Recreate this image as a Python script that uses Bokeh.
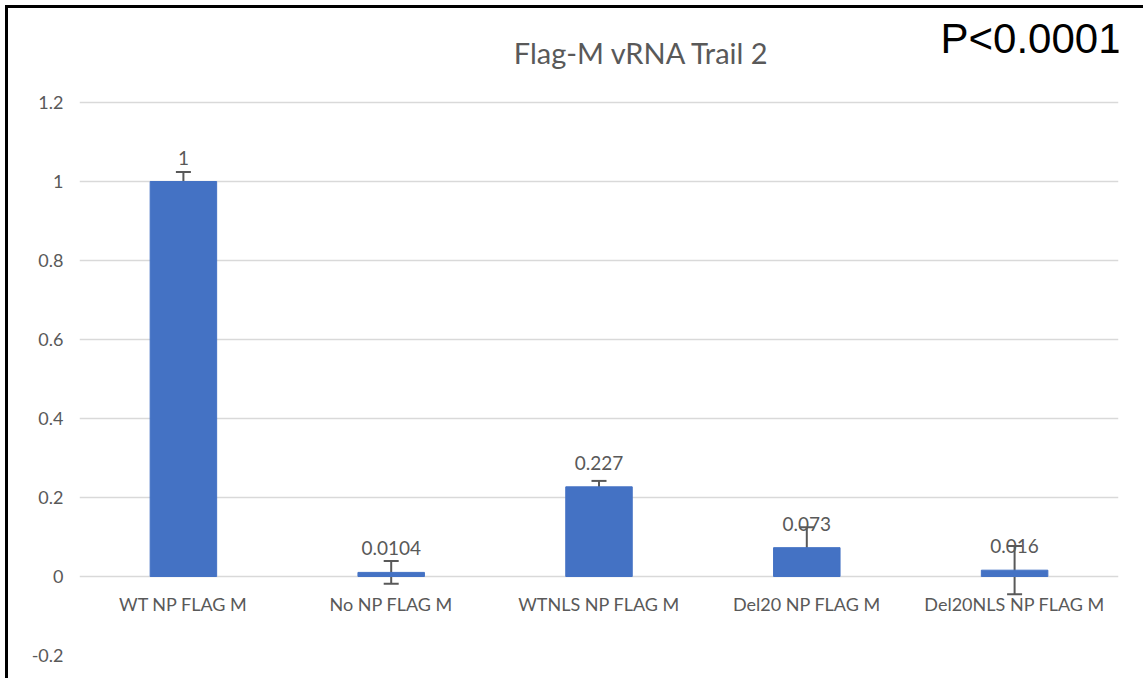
from bokeh.plotting import figure
from bokeh.models import ColumnDataSource, Whisker, TeeHead, FixedTicker, CustomJSTickFormatter, Range1d
from bokeh.core.properties import value
from bokeh.embed import file_html
from bokeh.resources import INLINE

categories = ["WT NP FLAG M", "No NP FLAG M", "WTNLS NP FLAG M", "Del20 NP FLAG M", "Del20NLS NP FLAG M"]
values = [1.0, 0.0104, 0.227, 0.073, 0.016]
errors = [0.024, 0.029, 0.015, 0.052, 0.061]
value_labels = ["1", "0.0104", "0.227", "0.073", "0.016"]
y_ticks = [-0.2, 0.0, 0.2, 0.4, 0.6, 0.8, 1.0, 1.2]
title_text = "Flag-M vRNA Trail 2"
p_text = "P<0.0001"

GRAY = "#595959"
FONT = "Lato"

src = ColumnDataSource(dict(
    cat=categories, val=values,
    upper=[v + e for v, e in zip(values, errors)],
    lower=[v - e for v, e in zip(values, errors)],
    lab=value_labels,
))

# frame extends to the top of the canvas so the heading texts can live inside it
top_pad = 94 / 395.0
p = figure(x_range=categories, y_range=Range1d(-0.2, 1.2 + top_pad), width=1138, height=673,
           output_backend="svg", toolbar_location=None,
           min_border_left=71, min_border_right=28, min_border_top=0, min_border_bottom=26)
p.title.visible = False
p.styles = {"border-top": "3px solid black", "border-left": "3px solid black",
            "margin-left": "5px", "margin-top": "5px"}
p.outline_line_color = None
p.background_fill_color = "white"
p.border_fill_color = "white"

p.vbar(x="cat", top="val", width=0.32, source=src, color="#4472C4")

w = Whisker(base="cat", upper="upper", lower="lower", source=src,
            line_color=GRAY, line_width=2,
            upper_head=TeeHead(size=15, line_color=GRAY, line_width=2),
            lower_head=TeeHead(size=15, line_color=GRAY, line_width=2))
p.add_layout(w)

p.text(x="cat", y="val", text="lab", source=src, text_align="center", text_baseline="middle",
       y_offset=-24, text_color=GRAY, text_font_size="19px", text_font=value(FONT))

# heading texts
n = len(categories)
p.text(x=[n / 2], y=[y_ticks[-1]], text=[title_text], x_offset=43, y_offset=-50,
       text_align="center", text_baseline="alphabetic", text_color=GRAY,
       text_font=value(FONT), text_font_size="29px")
p.text(x=[n], y=[y_ticks[-1]], text=[p_text], x_offset=3, y_offset=-64,
       text_align="right", text_baseline="alphabetic", text_color="black",
       text_font=value("Liberation Sans"), text_font_size="42px")

# axes
p.xgrid.grid_line_color = None
p.ygrid.grid_line_color = "#D9D9D9"
p.ygrid.grid_line_width = 1.5
p.yaxis.ticker = FixedTicker(ticks=y_ticks)
p.yaxis.formatter = CustomJSTickFormatter(code="return Number(tick.toFixed(1)).toString()")
for ax in (p.xaxis[0], p.yaxis[0]):
    ax.axis_line_color = None
    ax.major_tick_line_color = None
    ax.minor_tick_line_color = None
    ax.major_tick_out = 0
    ax.major_tick_in = 0
    ax.major_label_text_color = GRAY
    ax.major_label_text_font = FONT
    ax.major_label_text_font_size = "18px"
p.yaxis.major_label_standoff = 16
p.xaxis.fixed_location = 0
p.xaxis.major_label_standoff = 16

open("out.html", "w").write(file_html(p, INLINE))
